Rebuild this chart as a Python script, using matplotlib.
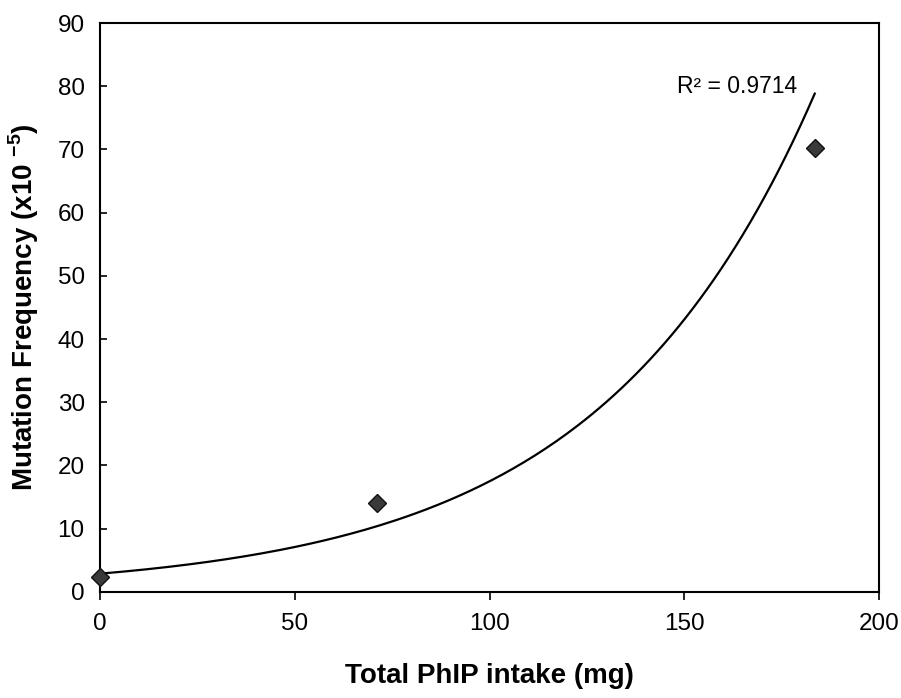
import numpy as np
import matplotlib
matplotlib.use('Agg')
import matplotlib.pyplot as plt

# 데이터
phip_intake = [0, 71, 183.5]          # Total PhIP intake (mg)
mutation_freq = [2.4, 14.0, 70.2]     # Mutation Frequency (x10^-5)
r2_label = 'R² = 0.9714'
x_ticks = [0, 50, 100, 150, 200]
y_ticks = [0, 10, 20, 30, 40, 50, 60, 70, 80, 90]

plt.rcParams['font.family'] = ['Liberation Sans', 'DejaVu Sans']
plt.rcParams['mathtext.fontset'] = 'custom'
plt.rcParams['mathtext.rm'] = 'Liberation Sans'
plt.rcParams['mathtext.bf'] = 'Liberation Sans:bold'

fig = plt.figure(figsize=(9.01, 6.98), dpi=100)
ax = fig.add_axes([0.111, 0.152, 0.8646, 0.815])

# 지수 추세선 (Excel 방식: log-선형 회귀)
b, ln_a = np.polyfit(phip_intake, np.log(mutation_freq), 1)
xs = np.linspace(min(phip_intake), max(phip_intake), 200)
ax.plot(xs, np.exp(ln_a) * np.exp(b * xs), color='black', lw=1.6, zorder=2)

# 측정값
ax.plot(phip_intake, mutation_freq, linestyle='none', marker='D', markersize=9,
        markerfacecolor='#3a3a3a', markeredgecolor='#111111', zorder=3,
        clip_on=False)

ax.text(179, 80, r2_label, ha='right', va='center', fontsize=16.5)

ax.set_xlim(0, 200)
ax.set_ylim(0, 90)
ax.set_xticks(x_ticks)
ax.set_yticks(y_ticks)
ax.tick_params(axis='x', direction='out', length=6, width=1.2, labelsize=17.5, pad=9)
ax.tick_params(axis='y', direction='in', length=5, width=1.2, labelsize=17.5, pad=11)
for s in ax.spines.values():
    s.set_linewidth(1.5)
    s.set_color('black')

ax.set_xlabel('Total PhIP intake (mg)', fontsize=20, fontweight='bold', labelpad=20)
ax.set_ylabel(r'Mutation Frequency (x10 $^{\mathbf{-5}}$)', fontsize=20,
              fontweight='bold', labelpad=12)

fig.savefig('out.png', dpi=100, facecolor='white')
